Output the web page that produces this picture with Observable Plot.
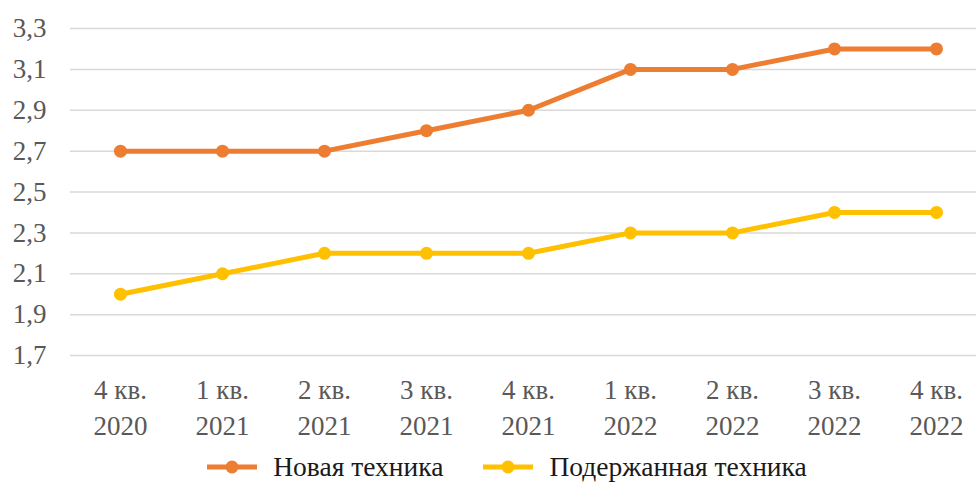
<!DOCTYPE html>
<html>
<head>
<meta charset="utf-8">
<script src="https://cdn.jsdelivr.net/npm/d3@7"></script>
<script src="https://cdn.jsdelivr.net/npm/@observablehq/plot@0.6"></script>
<style>
  body { margin: 0; background: #fff; font-family: "Liberation Serif", "Times New Roman", serif; }
  #legend { display: flex; justify-content: center; align-items: center; gap: 40px; height: 34px; margin-left: 38px; font-size: 27.5px; color: #1a1a1a; }
  .item { display: flex; align-items: center; gap: 16px; }
</style>
</head>
<body>
<div id="chart"></div>
<div id="legend"></div>
<script>
const quarters = ["4 кв.\n2020", "1 кв.\n2021", "2 кв.\n2021", "3 кв.\n2021", "4 кв.\n2021", "1 кв.\n2022", "2 кв.\n2022", "3 кв.\n2022", "4 кв.\n2022"];
const newEquipment = [2.7, 2.7, 2.7, 2.8, 2.9, 3.1, 3.1, 3.2, 3.2];
const usedEquipment = [2.0, 2.1, 2.2, 2.2, 2.2, 2.3, 2.3, 2.4, 2.4];
const yTicks = [1.7, 1.9, 2.1, 2.3, 2.5, 2.7, 2.9, 3.1, 3.3];
const seriesNames = ["Новая техника", "Подержанная техника"];
const seriesColors = ["#ED7D31", "#FFC000"];

const rows = [];
quarters.forEach((q, i) => {
  rows.push({i, v: newEquipment[i], s: seriesNames[0]});
  rows.push({i, v: usedEquipment[i], s: seriesNames[1]});
});
const idx = quarters.map((q, i) => i);

const chart = Plot.plot({
  width: 976,
  height: 450,
  marginLeft: 70,
  marginRight: 0,
  marginTop: 28,
  marginBottom: 95,
  style: {fontFamily: "'Liberation Serif', 'Times New Roman', serif", fontSize: "27px", color: "#595959", overflow: "visible"},
  x: {type: "linear", domain: [-0.49, 8.392]},
  y: {domain: [1.7, 3.3]},
  color: {domain: seriesNames, range: seriesColors},
  marks: [
    Plot.ruleY(yTicks, {stroke: "#d9d9d9", strokeWidth: 1.5}),
    Plot.axisY({ticks: yTicks, tickSize: 0, tickPadding: 24, fontSize: 27, fill: "#595959",
      tickFormat: d => d.toFixed(1).replace(".", ","), label: null}),
    Plot.axisX({ticks: idx, tickFormat: i => quarters[i], tickSize: 0, tickPadding: 19, fontSize: 27, lineHeight: 1.3, fill: "#595959", label: null}),
    Plot.line(rows, {x: "i", y: "v", stroke: "s", z: "s", strokeWidth: 5}),
    Plot.dot(rows, {x: "i", y: "v", fill: "s", r: 6.5})
  ]
});
document.getElementById("chart").appendChild(chart);

const legend = document.getElementById("legend");
seriesNames.forEach((name, i) => {
  const item = document.createElement("div");
  item.className = "item";
  const svgNS = "http://www.w3.org/2000/svg";
  const sw = document.createElementNS(svgNS, "svg");
  sw.setAttribute("width", 50); sw.setAttribute("height", 16);
  const ln = document.createElementNS(svgNS, "line");
  ln.setAttribute("x1", 0); ln.setAttribute("x2", 50); ln.setAttribute("y1", 8); ln.setAttribute("y2", 8);
  ln.setAttribute("stroke", seriesColors[i]); ln.setAttribute("stroke-width", 5);
  const c = document.createElementNS(svgNS, "circle");
  c.setAttribute("cx", 25); c.setAttribute("cy", 8); c.setAttribute("r", 6.5); c.setAttribute("fill", seriesColors[i]);
  sw.appendChild(ln); sw.appendChild(c);
  const t = document.createElement("span");
  t.textContent = name;
  item.appendChild(sw); item.appendChild(t);
  legend.appendChild(item);
});
</script>
</body>
</html>
